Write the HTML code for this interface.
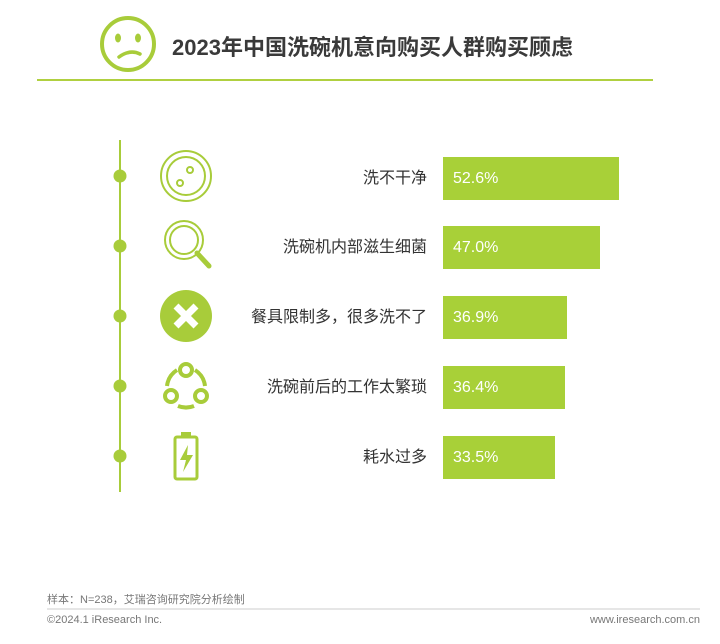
<!DOCTYPE html>
<html><head><meta charset="utf-8"><style>
body{margin:0;background:#fff;width:720px;height:644px;position:relative;overflow:hidden;font-family:"Liberation Sans","Noto Sans CJK SC",sans-serif}
.t{position:absolute;white-space:nowrap}
.bar{position:absolute;left:443px;height:43px;background:#a8d038;color:#fff;font-size:16px;line-height:43px;padding-left:10px;box-sizing:border-box}
.lab{position:absolute;right:293px;font-size:16px;color:#333;line-height:43px}
</style></head><body>
<svg width="720" height="644" style="position:absolute;left:0;top:0">
<circle cx="128" cy="44" r="26" fill="none" stroke="#a8cc3a" stroke-width="4"/>
<ellipse cx="118" cy="38" rx="3" ry="4.5" fill="#a8cc3a"/><ellipse cx="138" cy="38" rx="3" ry="4.5" fill="#a8cc3a"/>
<path d="M119 57 Q130 49 140 54" fill="none" stroke="#a8cc3a" stroke-width="3.5" stroke-linecap="round"/>
<line x1="37" y1="80" x2="653" y2="80" stroke="#b0d040" stroke-width="2"/>
<line x1="120" y1="140" x2="120" y2="492" stroke="#a8cc3a" stroke-width="2"/>
<g fill="#a8cc3a"><circle cx="120" cy="176" r="6.5"/><circle cx="120" cy="246" r="6.5"/><circle cx="120" cy="316" r="6.5"/><circle cx="120" cy="386" r="6.5"/><circle cx="120" cy="456" r="6.5"/></g>
<g fill="none" stroke="#a8cc3a" stroke-width="2">
<circle cx="186" cy="176" r="25"/><circle cx="186" cy="176" r="19"/><circle cx="190" cy="170" r="3"/><circle cx="180" cy="183" r="3"/>
<circle cx="184" cy="240" r="19"/><circle cx="184" cy="240" r="14"/><path d="M197 253 L209 266" stroke-width="5" stroke-linecap="round"/>
<circle cx="186" cy="370" r="6" stroke-width="4"/><circle cx="171" cy="396" r="6" stroke-width="4"/><circle cx="201" cy="396" r="6" stroke-width="4"/>
<path d="M167 386 A22 22 0 0 1 177 370 M195 370 A22 22 0 0 1 205 386 M178 406 A22 22 0 0 0 194 406" stroke-width="4"/>
<rect x="175" y="437" width="22" height="42" rx="2" stroke-width="3"/>
</g>
<circle cx="186" cy="316" r="26" fill="#a8cc3a"/>
<path d="M176 306 L196 326 M196 306 L176 326" stroke="#fff" stroke-width="7"/>
<rect x="181" y="432" width="10" height="4" fill="#a8cc3a"/>
<path d="M188 445 L180 460 L186 460 L183 472 L193 455 L187 455 Z" fill="#a8cc3a"/>
<line x1="47" y1="609" x2="700" y2="609" stroke="#ccc" stroke-width="1"/>
</svg>
<div class="t" style="left:172px;top:30px;font-size:22px;font-weight:bold;color:#3a3a3a">2023年中国洗碗机意向购买人群购买顾虑</div>
<div class="lab" style="top:157px">洗不干净</div><div class="bar" style="top:157px;width:176px">52.6%</div>
<div class="lab" style="top:226px">洗碗机内部滋生细菌</div><div class="bar" style="top:226px;width:157px">47.0%</div>
<div class="lab" style="top:296px">餐具限制多，很多洗不了</div><div class="bar" style="top:296px;width:124px">36.9%</div>
<div class="lab" style="top:366px">洗碗前后的工作太繁琐</div><div class="bar" style="top:366px;width:122px">36.4%</div>
<div class="lab" style="top:436px">耗水过多</div><div class="bar" style="top:436px;width:112px">33.5%</div>
<div class="t" style="left:47px;top:591px;font-size:11px;color:#777">样本：N=238，艾瑞咨询研究院分析绘制</div>
<div class="t" style="left:47px;top:614px;font-size:11px;color:#777">©2024.1 iResearch Inc.</div>
<div class="t" style="right:20px;top:614px;font-size:11px;color:#777">www.iresearch.com.cn</div>
</body></html>
